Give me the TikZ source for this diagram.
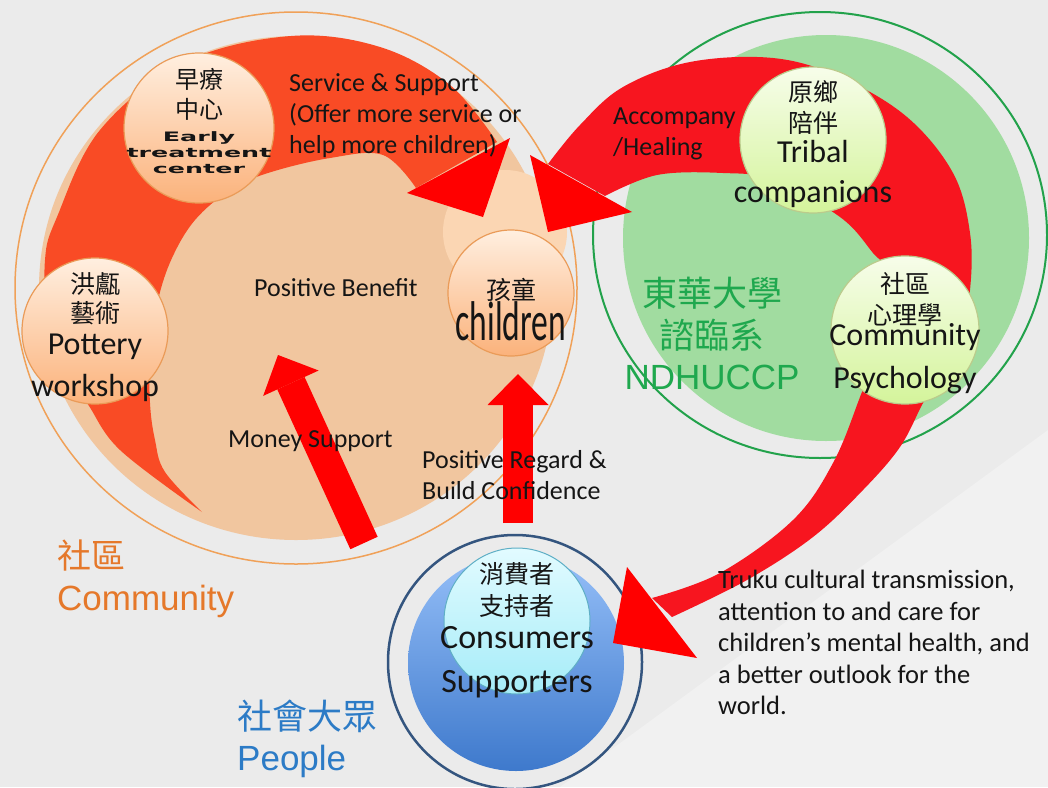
\documentclass[tikz,border=0pt]{standalone}
\usepackage{fontspec}
\setmainfont{Carlito}
\newfontfamily\cjk{Noto Sans CJK TC}
\newfontfamily\arialfont{Liberation Sans}
\newfontfamily\widefont{DejaVu Sans}
\usetikzlibrary{arrows.meta}

\definecolor{bggray}{HTML}{EBEBEB}
\definecolor{peachdisk}{HTML}{F1C69F}
\definecolor{peachglow}{HTML}{FBD6B3}
\definecolor{bandorange}{HTML}{F94B25}
\definecolor{bandred}{HTML}{F7151F}
\definecolor{arrowred}{HTML}{FF0000}
\definecolor{ringorange}{HTML}{F0A158}
\definecolor{ringgreen}{HTML}{22A24B}
\definecolor{diskgreen}{HTML}{A1DCA0}
\definecolor{ringnavy}{HTML}{34557F}
\definecolor{bluetop}{HTML}{95BFF8}
\definecolor{bluebot}{HTML}{3E79CC}
\definecolor{cyantop}{HTML}{E2FBFF}
\definecolor{cyanbot}{HTML}{A5ECF8}
\definecolor{cyanrim}{HTML}{5FAFC6}
\definecolor{peachtop}{HTML}{FFEFE0}
\definecolor{peachbot}{HTML}{FBB27B}
\definecolor{peachrim}{HTML}{EA9B58}
\definecolor{limetop}{HTML}{F7FDEA}
\definecolor{limebot}{HTML}{D4F49B}
\definecolor{limerim}{HTML}{BBCB8C}
\definecolor{ink}{HTML}{151515}
\definecolor{txtgreen}{HTML}{1FA84E}
\definecolor{txtorange}{HTML}{E5782A}
\definecolor{txtblue}{HTML}{2C7BC6}

\newcommand\fsz[2]{\fontsize{#1}{#2}\selectfont\lineskiplimit=-500pt\relax}
\newcommand\stretchy[1]{\scalebox{1.95}[1]{\widefont\bfseries\fontsize{13}{16}\selectfont #1}}

\begin{document}
\begin{tikzpicture}[x=1pt, y=-1pt, line join=round,
  peachball/.style={circle, inner sep=0pt, minimum size=#1, draw=peachrim, line width=1.2pt, top color=peachtop, bottom color=peachbot},
  limeball/.style={circle, inner sep=0pt, minimum size=#1, draw=limerim, line width=1.2pt, top color=limetop, bottom color=limebot},
  say/.style={inner sep=0pt, align=center, anchor=north, text=ink},
  note/.style={inner sep=0pt, align=left, anchor=north west, text=ink, font=\fsz{26}{31}},
  fatarrow/.style={draw=arrowred, line width=30pt, -{Triangle[length=31pt, width=61pt, line width=0pt]}}]
  \useasboundingbox (0,0) rectangle (1048,787);
  \clip (0,0) rectangle (1048,787);
  \fill[bggray] (0,0) rectangle (1048,787);
  \fill[white, opacity=.3] (560,787) -- (1048,430) -- (1048,787) -- cycle;

  % community
  \fill[peachdisk] (296,288) ellipse [x radius=257pt, y radius=252pt];
  \fill[peachglow] (505,232) circle [radius=62pt];
  \fill[bandorange]
    plot[smooth, tension=.6] coordinates {(497,142) (450,85) (380,47) (291,36) (185,62) (100,130) (57,217) (45,260) (48,330) (65,375) (87,403) (120,450) (202,512)}
    -- plot[smooth, tension=.6] coordinates {(202,512) (165,472) (155,440) (150,403) (150,350) (158,300) (172,258) (195,220) (230,190) (268,173) (330,158) (383,155) (416,188)}
    -- cycle;
  \fill[arrowred] (407,193) -- (510,138) -- (483,217) -- cycle;
  \draw[ringorange, line width=1.5pt] (296,288) ellipse [x radius=281pt, y radius=276pt];

  % people
  \draw[ringnavy, line width=2.5pt] (515,662) circle [radius=127pt];
  \shade[top color=bluetop, bottom color=bluebot] (516,663) circle [radius=108pt];
  \node[circle, inner sep=0pt, minimum size=146pt, draw=cyanrim, line width=1pt, top color=cyantop, bottom color=cyanbot] (buyers) at (517,621) {};

  % ndhu
  \draw[ringgreen, line width=2pt] (820,235) ellipse [x radius=227pt, y radius=223pt];
  \fill[diskgreen] (826,238) circle [radius=203pt];
  \fill[bandred]
    plot[smooth, tension=.6] coordinates {(548,164) (580,125) (623,87) (690,62) (773,58) (840,77) (907,117) (953,173) (970,233) (970,290) (960,335) (940,375) (923,403) (900,447) (863,490) (813,537) (747,580) (672,617)}
    -- plot[smooth, tension=.6] coordinates {(652,598) (720,573) (793,520) (833,463) (860,397) (880,340) (890,277) (873,253) (840,217) (773,180) (723,173) (657,175) (605,196)}
    -- cycle;
  \fill[arrowred] (530,155) -- (632,212) -- (548,232) -- cycle;
  \fill[arrowred] (627,567) -- (697,658) -- (613,643) -- cycle;

  % circles
  \node[peachball=150pt] (early) at (199,128) {};
  \node[peachball=146pt] (pottery) at (95,331) {};
  \node[peachball=126pt] (kids) at (511,293) {};
  \node[limeball=146pt] (tribal) at (813,140) {};
  \node[limeball=148pt] (psych) at (905,330) {};

  % arrows
  \coordinate (moneyfrom) at (364,543);
  \coordinate (moneyto) at (278,355);
  \coordinate (regardfrom) at (518,523);
  \coordinate (regardto) at (518,374);
  \draw[fatarrow] (moneyfrom) -- (moneyto);
  \draw[fatarrow] (regardfrom) -- (regardto);

  % texts
  \node[say, font=\fsz{24}{30}] (early-t) at (199,68) {{\cjk 早療}\\{\cjk 中心}\\[-7pt]\stretchy{Early}\\[-14pt]\stretchy{treatment}\\[-14pt]\stretchy{center}};
  \node[say, font=\fsz{25}{29}] (pottery-t) at (95,272) {{\cjk 洪甗}\\{\cjk 藝術}\\[3pt]{\fsz{32}{29}Pottery}\\[13pt]{\fsz{32}{29}workshop}};
  \node[say, font=\fsz{25}{41}] (kids-t) at (511,278) {{\cjk 孩童}\\\scalebox{.6}[1]{\fsz{56}{41}children}};
  \node[say, font=\fsz{25}{31}] (tribal-t) at (813,80) {{\cjk 原鄉}\\{\cjk 陪伴}\\[-1pt]{\fsz{32}{31}Tribal}\\[9pt]{\fsz{32}{31}companions}};
  \node[say, font=\fsz{25}{31}] (psych-t) at (905,272) {{\cjk 社區}\\{\cjk 心理學}\\[-10pt]{\fsz{32}{31}Community}\\[12pt]{\fsz{32}{31}Psychology}};
  \node[say, font=\fsz{25}{32}] (buyers-t) at (517,562) {{\cjk 消費者}\\{\cjk 支持者}\\[1pt]{\fsz{34}{32}Consumers}\\[12pt]{\fsz{34}{32}Supporters}};
  \node[say, text=txtgreen, font=\fsz{35}{41.5}] (ndhu-t) at (712,277) {{\cjk 東華大學}\\{\cjk 諮臨系}\\{\arialfont NDHUCCP}};
  \node[inner sep=0pt, anchor=north west, align=left, text=txtorange, font=\fsz{34}{42}] (community-t) at (57,540) {{\cjk 社區}\\{\arialfont\fsz{35}{42}Community}};
  \node[inner sep=0pt, anchor=north west, align=left, text=txtblue, font=\fsz{35}{41}] (people-t) at (237,700) {{\cjk 社會大眾}\\{\arialfont People}};

  \node[note] (service-t) at (289,73) {Service \& Support\\(Offer more service or\\help more children)};
  \node[note] (benefit-t) at (254,278) {Positive Benefit};
  \node[note] (money-t) at (228,430) {Money Support};
  \node[note] (regard-t) at (422,450) {Positive Regard \&\\Build Confidence};
  \node[note] (heal-t) at (613,108) {Accompany\\/Healing};
  \node[note, font=\fsz{26.5}{31.5}] (truku-t) at (718,570) {Truku cultural transmission,\\attention to and care for\\children's mental health, and\\a better outlook for the\\world.};
\end{tikzpicture}
\end{document}
